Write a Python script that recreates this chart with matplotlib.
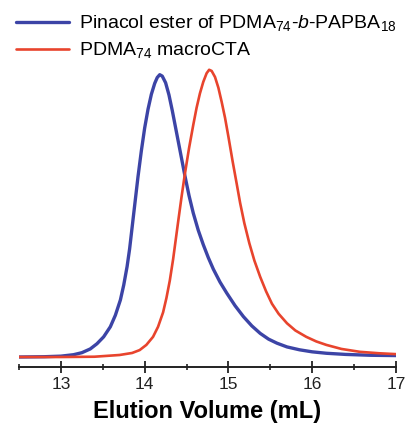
import matplotlib
matplotlib.use("Agg")
import matplotlib.pyplot as plt
from matplotlib.ticker import MultipleLocator

plt.rcParams["font.family"] = ["Liberation Sans", "DejaVu Sans"]
plt.rcParams["mathtext.fontset"] = "custom"
plt.rcParams["mathtext.rm"] = "Liberation Sans"
plt.rcParams["mathtext.it"] = "Liberation Sans:italic"
plt.rcParams["mathtext.bf"] = "Liberation Sans:bold"

# SEC traces: elution volume (mL) vs normalised RI response
block_vol = [12.50, 12.80, 13.00, 13.15, 13.25, 13.35, 13.43, 13.51, 13.59, 13.65,
             13.71, 13.75, 13.79, 13.82, 13.85, 13.88, 13.92, 13.96, 14.00, 14.04,
             14.08, 14.12, 14.15, 14.18, 14.21, 14.25, 14.29, 14.33, 14.38, 14.43,
             14.48, 14.53, 14.58, 14.64, 14.70, 14.76, 14.82, 14.90, 14.98, 15.08,
             15.18, 15.28, 15.38, 15.48, 15.58, 15.70, 15.85, 16.00, 16.17, 16.40,
             16.70, 17.00]
block_sig = [0.000, 0.001, 0.003, 0.008, 0.015, 0.028, 0.046, 0.070, 0.105, 0.145,
             0.198, 0.250, 0.314, 0.375, 0.450, 0.525, 0.625, 0.715, 0.795, 0.860,
             0.912, 0.950, 0.970, 0.980, 0.975, 0.952, 0.910, 0.855, 0.780, 0.705,
             0.630, 0.560, 0.500, 0.440, 0.390, 0.345, 0.305, 0.260, 0.222, 0.178,
             0.140, 0.108, 0.082, 0.062, 0.048, 0.035, 0.025, 0.018, 0.013, 0.009,
             0.006, 0.005]

macro_vol = [12.50, 13.00, 13.40, 13.70, 13.85, 13.94, 14.02, 14.10, 14.16, 14.22,
             14.26, 14.30, 14.34, 14.37, 14.40, 14.44, 14.48, 14.53, 14.58, 14.62,
             14.66, 14.70, 14.74, 14.77, 14.80, 14.84, 14.88, 14.92, 14.96, 15.00,
             15.05, 15.10, 15.14, 15.19, 15.25, 15.31, 15.38, 15.45, 15.52, 15.60,
             15.70, 15.80, 15.93, 16.05, 16.17, 16.35, 16.57, 16.80, 17.00]
macro_sig = [0.000, 0.000, 0.001, 0.007, 0.014, 0.024, 0.042, 0.070, 0.105, 0.155,
             0.205, 0.265, 0.340, 0.405, 0.470, 0.555, 0.635, 0.725, 0.805, 0.865,
             0.915, 0.955, 0.985, 0.997, 0.993, 0.972, 0.935, 0.885, 0.830, 0.765,
             0.680, 0.600, 0.535, 0.465, 0.395, 0.335, 0.278, 0.228, 0.185, 0.150,
             0.117, 0.092, 0.070, 0.054, 0.042, 0.028, 0.018, 0.013, 0.010]

block_label = "Pinacol ester of PDMA$_{74}$-$b$-PAPBA$_{18}$"
macro_label = "PDMA$_{74}$ macroCTA"
x_label = "Elution Volume (mL)"

fig = plt.figure(figsize=(4.06, 4.30), dpi=100)
ax = fig.add_axes([0.047, 0.1465, 0.928, 0.714])

ax.plot(block_vol, block_sig, color="#3c44a6", lw=2.4, label=block_label,
        solid_joinstyle="round", solid_capstyle="round")
ax.plot(macro_vol, macro_sig, color="#e8442d", lw=1.9, label=macro_label,
        solid_joinstyle="round", solid_capstyle="round")

ax.set_xlim(12.5, 17.0)
ax.set_ylim(-0.0347, 1.031)

for side in ("left", "right", "top"):
    ax.spines[side].set_visible(False)
ax.spines["bottom"].set_linewidth(1.4)
ax.spines["bottom"].set_color("#222222")

ax.xaxis.set_major_locator(MultipleLocator(1))
ax.xaxis.set_minor_locator(MultipleLocator(0.5))
ax.tick_params(axis="x", which="major", direction="inout", length=8, width=1.3,
               labelsize=12.5, pad=3, colors="#222222")
ax.tick_params(axis="x", which="minor", direction="inout", length=4.5, width=1.2,
               colors="#222222")
ax.set_yticks([])
ax.set_xlabel(x_label, fontsize=17, fontweight="bold", labelpad=6)

fig.legend(loc="upper left", bbox_to_anchor=(0.0, 1.005), frameon=False,
           fontsize=14, handlelength=2.75, handletextpad=0.5, labelspacing=0.36,
           borderpad=0.3, handleheight=0.7)

fig.savefig("out.png", dpi=100)
